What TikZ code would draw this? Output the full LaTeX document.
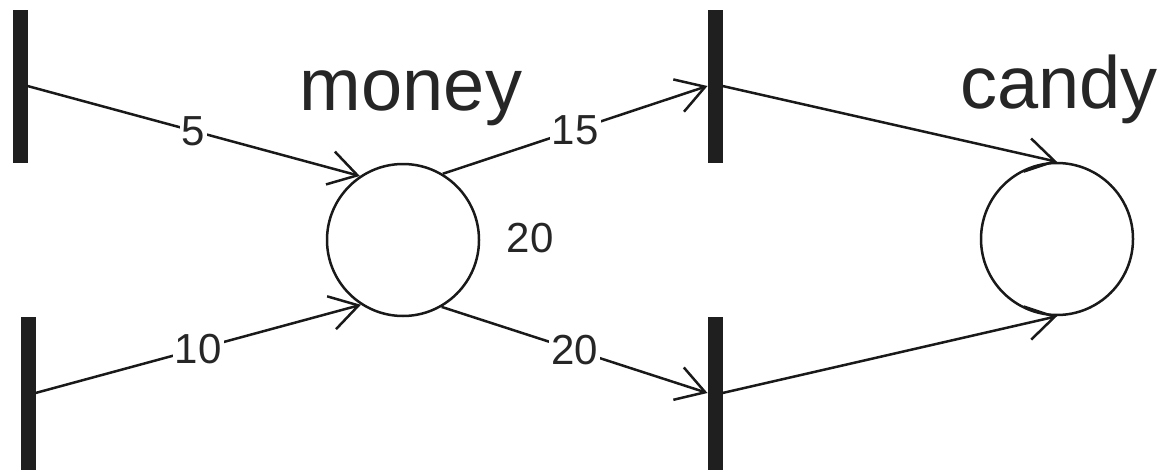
\documentclass[tikz,border=0pt]{standalone}
\usepackage{fontspec}
\setmainfont{Liberation Sans}
\usetikzlibrary{arrows.meta}
\begin{document}
\begin{tikzpicture}[x=1pt,y=-1pt,
  trans/.style={rectangle, fill=black!88, draw=none, minimum width=15pt, minimum height=153pt, inner sep=0pt, outer sep=0pt},
  place/.style={circle, draw=black!90, line width=2.5pt, minimum size=152pt, inner sep=0pt},
  arcedge/.style={line width=2.5pt, draw=black!90, -{Straight Barb[length=28pt,width=34pt,line width=2.5pt]}},
  wt/.style={fill=white, inner sep=2pt, text=black!85, font=\fontsize{42}{42}\selectfont},
  pname/.style={anchor=base, text=black!85, font=\fontsize{74}{74}\selectfont}]
\useasboundingbox (0,0) rectangle (1161,471);
\node[trans] (T1) at (20,86) {};
\node[trans] (T2) at (28,393) {};
\node[trans] (T3) at (715,86) {};
\node[trans] (T4) at (715,393) {};
\node[place] (money) at (403,240) {};
\node[place] (candy) at (1057,239) {};
\node[pname] (lmoney) at (411,110) {money};
\node[pname] (lcandy) at (1059,108) {candy};
\node[anchor=base, text=black!85, font=\fontsize{42}{42}\selectfont] (tokens) at (530,252) {20};
\draw[arcedge] (T1.east) -- node[wt] (w1) {5} (money.124);
\draw[arcedge] (T2.east) -- node[wt] (w2) {10} (money.237);
\draw[arcedge] (money.59) -- node[wt] (w3) {15} (T3.west);
\draw[arcedge] (money.300) -- node[wt] (w4) {20} (T4.west);
\draw[arcedge] (T3.east) -- (candy.north);
\draw[arcedge] (T4.east) -- (candy.south);
\end{tikzpicture}
\end{document}
